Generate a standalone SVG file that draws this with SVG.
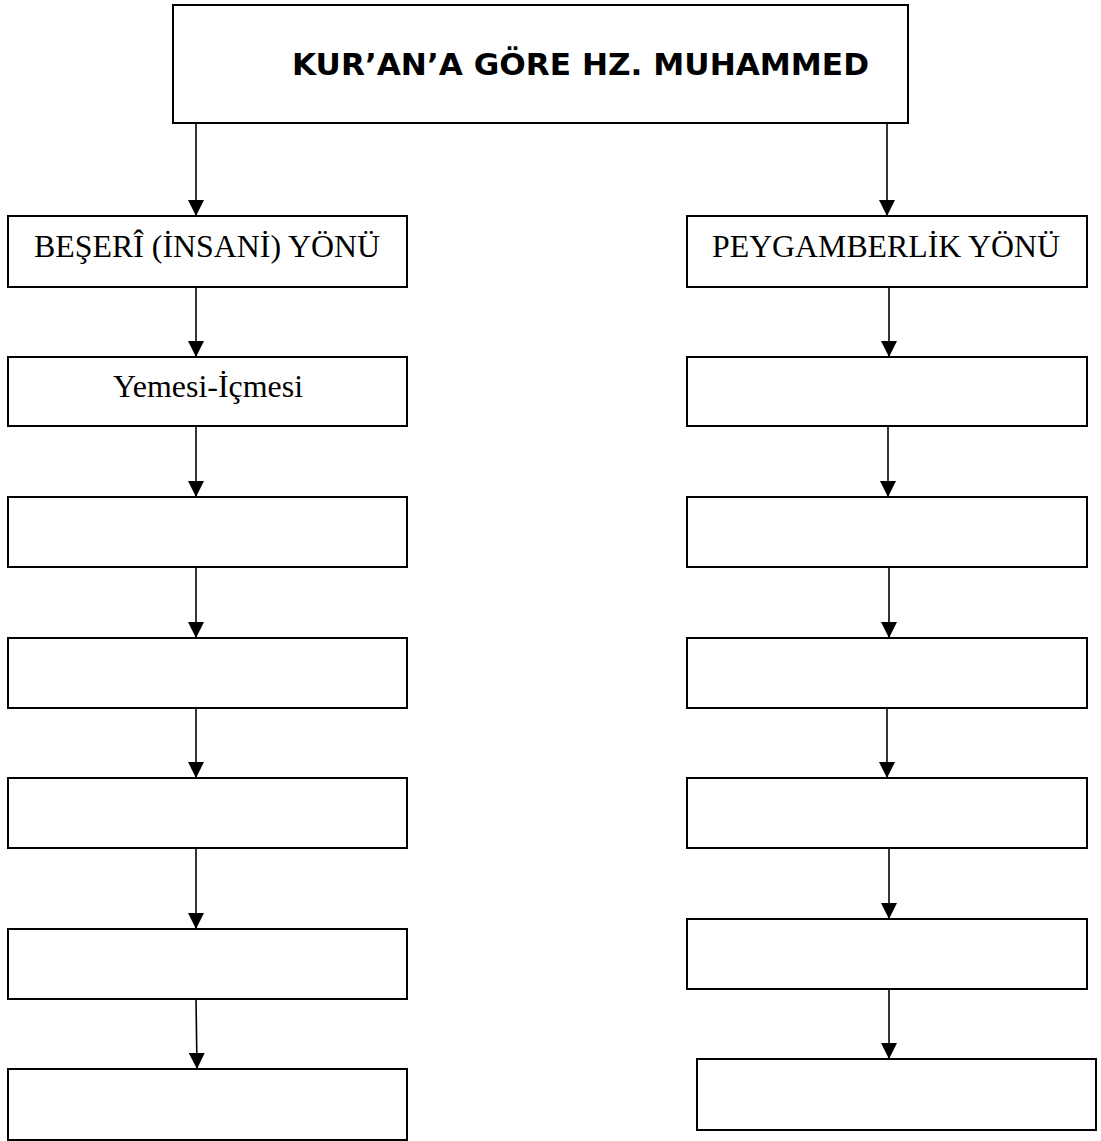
<svg xmlns="http://www.w3.org/2000/svg" width="1101" height="1141" viewBox="0 0 1101 1141">
<defs>
<marker id="ah" markerUnits="userSpaceOnUse" markerWidth="16" markerHeight="16" refX="16" refY="8" orient="auto"><path d="M0,0 L16,8 L0,16 z" fill="#000"/></marker>
<style>
.box{fill:#fff;stroke:#000;stroke-width:2}
.con{stroke:#000;stroke-width:1.6;fill:none;marker-end:url(#ah)}
.lbl{font-family:"Liberation Serif","Times New Roman",serif;font-size:32px;fill:#000}
.ttl{font-family:"DejaVu Sans",Verdana,sans-serif;font-weight:bold;font-size:31px;fill:#000}
</style>
</defs>
<rect width="1101" height="1141" fill="#fff"/>
<g id="connectors">
<line class="con" x1="196" y1="124" x2="196" y2="216"/>
<line class="con" x1="887" y1="124" x2="887" y2="216"/>
<line class="con" x1="196" y1="287" x2="196" y2="357"/>
<line class="con" x1="196" y1="426" x2="196" y2="497"/>
<line class="con" x1="196" y1="567" x2="196" y2="638"/>
<line class="con" x1="196" y1="708" x2="196" y2="778"/>
<line class="con" x1="196" y1="848" x2="196" y2="929"/>
<line class="con" x1="196" y1="999" x2="197" y2="1069"/>
<line class="con" x1="889" y1="287" x2="889" y2="357"/>
<line class="con" x1="888" y1="426" x2="888" y2="497"/>
<line class="con" x1="889" y1="567" x2="889" y2="638"/>
<line class="con" x1="887" y1="708" x2="887" y2="778"/>
<line class="con" x1="889" y1="848" x2="889" y2="919"/>
<line class="con" x1="889" y1="989" x2="889" y2="1059"/>
</g>
<g id="title"><rect class="box" x="173" y="5" width="735" height="118"/><text class="ttl" x="292" y="75" textLength="577" lengthAdjust="spacingAndGlyphs">KUR’AN’A GÖRE HZ. MUHAMMED</text></g>
<g id="beseri"><rect class="box" x="8" y="216" width="399" height="71"/><text class="lbl" x="34" y="257" textLength="346" lengthAdjust="spacingAndGlyphs">BEŞERÎ (İNSANİ) YÖNÜ</text></g>
<g id="yemesi"><rect class="box" x="8" y="357" width="399" height="69"/><text class="lbl" x="113" y="397" textLength="190" lengthAdjust="spacingAndGlyphs">Yemesi-İçmesi</text></g>
<g id="left3"><rect class="box" x="8" y="497" width="399" height="70"/></g>
<g id="left4"><rect class="box" x="8" y="638" width="399" height="70"/></g>
<g id="left5"><rect class="box" x="8" y="778" width="399" height="70"/></g>
<g id="left6"><rect class="box" x="8" y="929" width="399" height="70"/></g>
<g id="left7"><rect class="box" x="8" y="1069" width="399" height="71"/></g>
<g id="peygamberlik"><rect class="box" x="687" y="216" width="400" height="71"/><text class="lbl" x="712" y="257" textLength="348" lengthAdjust="spacingAndGlyphs">PEYGAMBERLİK YÖNÜ</text></g>
<g id="right2"><rect class="box" x="687" y="357" width="400" height="69"/></g>
<g id="right3"><rect class="box" x="687" y="497" width="400" height="70"/></g>
<g id="right4"><rect class="box" x="687" y="638" width="400" height="70"/></g>
<g id="right5"><rect class="box" x="687" y="778" width="400" height="70"/></g>
<g id="right6"><rect class="box" x="687" y="919" width="400" height="70"/></g>
<g id="right7"><rect class="box" x="697" y="1059" width="399" height="71"/></g>
</svg>
